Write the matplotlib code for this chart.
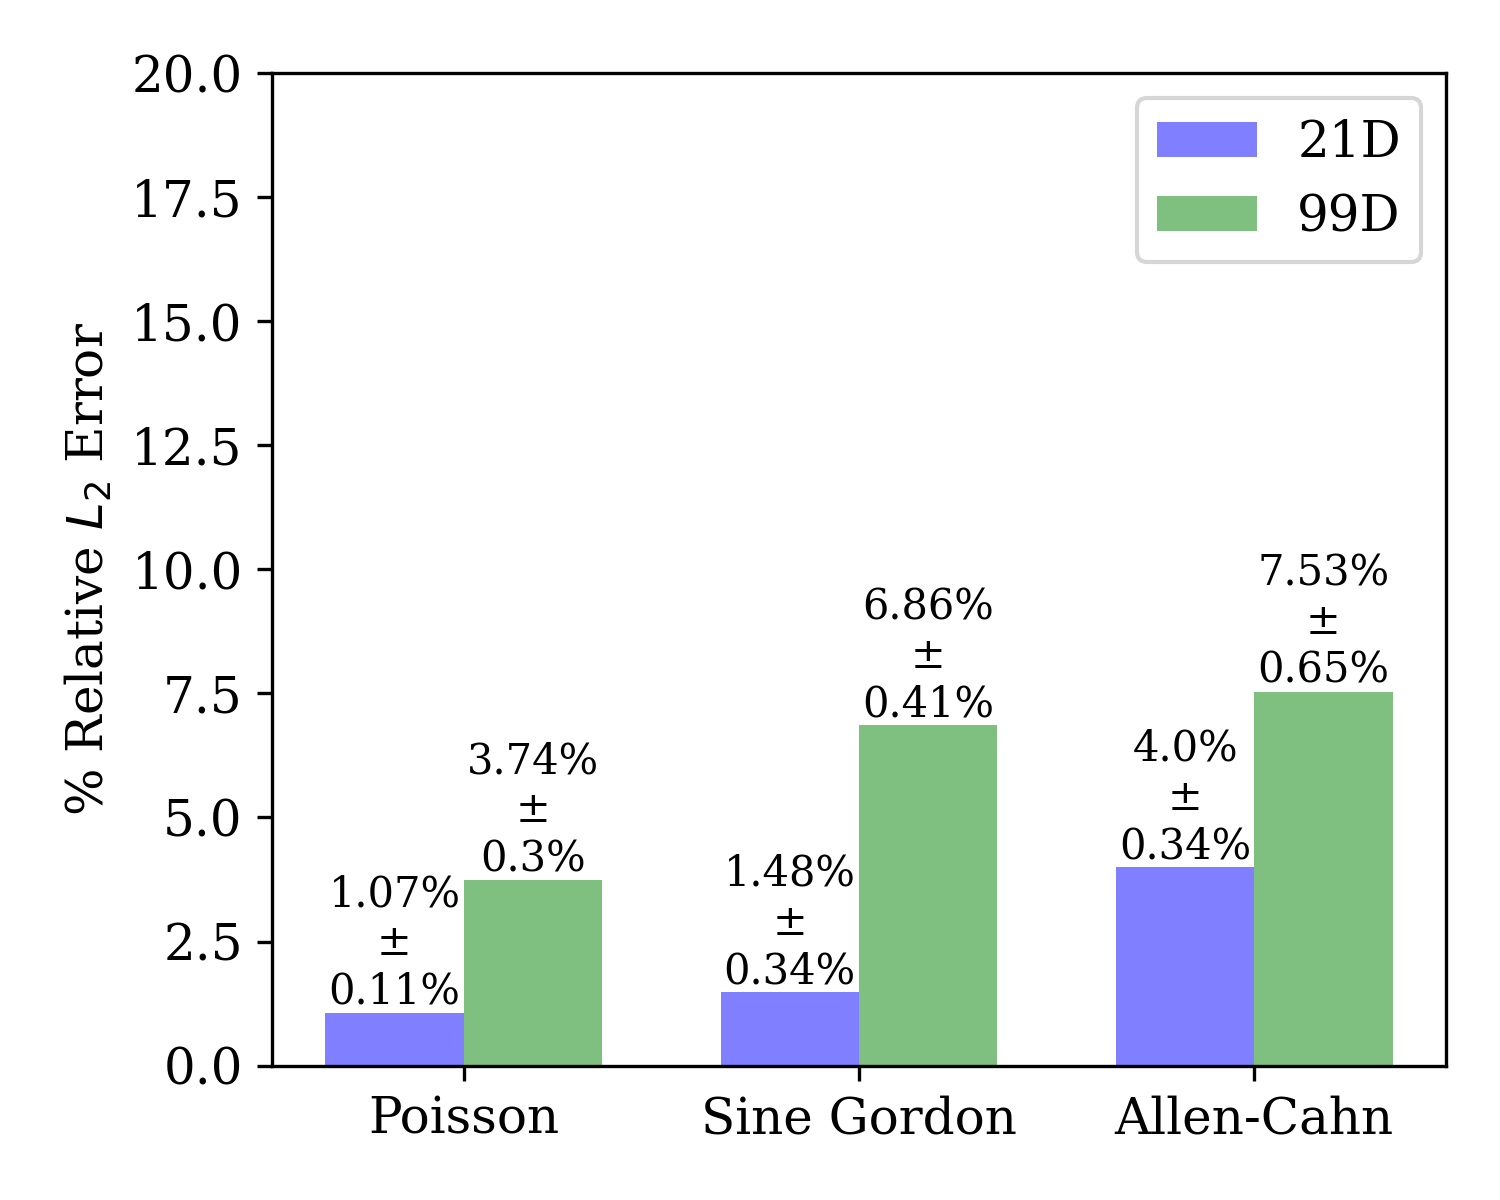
import matplotlib
matplotlib.use("Agg")
import matplotlib.pyplot as plt
import numpy as np

plt.rcParams["font.family"] = "DejaVu Serif"

problems = ["Poisson", "Sine Gordon", "Allen-Cahn"]
err_21d = [1.07, 1.48, 4.0]
std_21d = [0.11, 0.34, 0.34]
err_99d = [3.74, 6.86, 7.53]
std_99d = [0.3, 0.41, 0.65]

x = np.arange(len(problems))
width = 0.35

fig, ax = plt.subplots(figsize=(5, 4), dpi=300)
fig.subplots_adjust(left=0.1813, right=0.9640, top=0.939, bottom=0.112)

b1 = ax.bar(x - width / 2, err_21d, width, color="blue", alpha=0.5, label="21D")
b2 = ax.bar(x + width / 2, err_99d, width, color="green", alpha=0.5, label="99D")

for bars, vals, stds in [(b1, err_21d, std_21d), (b2, err_99d, std_99d)]:
    for bar, v, s in zip(bars, vals, stds):
        ax.text(bar.get_x() + bar.get_width() / 2, bar.get_height(),
                f"{v}%\n±\n{s}%", ha="center", va="bottom", fontsize=10)

ax.set_ylim(0, 20)
ax.set_xticks(x)
ax.set_xticklabels(problems, fontsize=12)
ax.tick_params(axis="y", labelsize=12)
ax.set_ylabel("% Relative $L_2$ Error", fontsize=12)
ax.legend(loc="upper right", fontsize=12)

fig.savefig("out.png", dpi=300)
